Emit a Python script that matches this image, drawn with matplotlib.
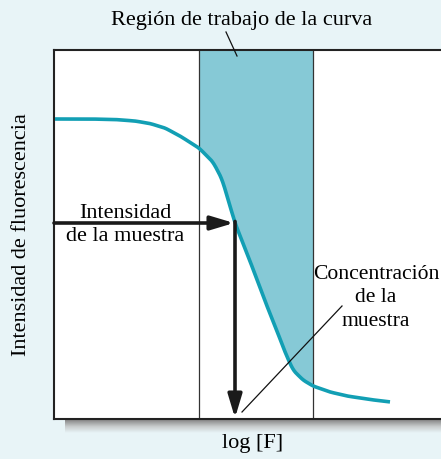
import numpy as np
import matplotlib
matplotlib.use("Agg")
import matplotlib.pyplot as plt
from matplotlib.colors import LinearSegmentedColormap

# Data (axis units follow the drawing's layout: x = log[F], y = intensity, inverted)
curve_x = [55, 90, 115, 135, 150, 165, 180, 199, 213, 222, 230, 235, 250, 263, 277, 285, 293, 303, 313, 330, 347, 370, 390]
curve_y = [120, 120, 120.5, 122, 124.5, 129, 137, 149, 163, 180, 207, 224, 262, 297, 332, 353, 371, 381, 387, 393, 397, 400.5, 403]
band = [199, 313]
sample_point = [235, 224]
title_text = "Región de trabajo de la curva"
xlabel_text = "log [F]"
ylabel_text = "Intensidad de fluorescencia"
int_label = "Intensidad\nde la muestra"
conc_label = "Concentración\nde la\nmuestra"

bg = "#e8f4f7"
fill_c = "#86c9d6"
curve_c = "#129fb4"

fig = plt.figure(figsize=(4.41, 4.60), dpi=100, facecolor=bg)
W, H = 441, 460
L, R, T, B = 54, 446, 51, 420
ax = fig.add_axes([L / W, 1 - B / H, (R - L) / W, (B - T) / H])
ax.set_xlim(L, R)
ax.set_ylim(B, T)
ax.set_facecolor("white")
ax.set_xticks([])
ax.set_yticks([])
for s in ["left", "top", "bottom"]:
    ax.spines[s].set_linewidth(1.5)
    ax.spines[s].set_color("#222222")
ax.spines["right"].set_visible(False)

# shadow under bottom axis
grad = np.linspace(0, 1, 50).reshape(-1, 1)
sh_ax = fig.add_axes([65 / W, 1 - 434 / H, (W - 65) / W, 13 / H], zorder=-1)
cmap = LinearSegmentedColormap.from_list("sh", ["#8a8a8a", "#c8cccd", bg])
sh_ax.imshow(grad, aspect="auto", cmap=cmap, extent=[0, 1, 1, 0])
sh_ax.axis("off")

# curve (lightly smoothed)
cx = np.linspace(curve_x[0], curve_x[-1], 700)
cy = np.interp(cx, curve_x, curve_y)
k = 6
cy_s = np.convolve(np.pad(cy, k, mode="edge"), np.ones(2 * k + 1) / (2 * k + 1), mode="same")[k:-k]

# working band fill
m = (cx >= band[0]) & (cx <= band[1])
xs = np.concatenate([[band[0]], cx[m], [band[1]]])
ys = np.interp(xs, cx, cy_s)
ax.fill_between(xs, ys, T, color=fill_c, lw=0, zorder=1)
for bx in band:
    ax.axvline(bx, color="#333333", lw=0.9, zorder=2)

ax.plot(cx, cy_s, color=curve_c, lw=2.6, solid_capstyle="butt", zorder=3)

# arrows
ap = dict(arrowstyle="-|>,head_length=1.0,head_width=0.3", color="#1a1a1a", lw=2.6,
          shrinkA=0, shrinkB=0, mutation_scale=14)
ax.annotate("", xy=(sample_point[0] - 1, sample_point[1]), xytext=(L, sample_point[1]),
            arrowprops=ap, zorder=4)
ax.annotate("", xy=(sample_point[0], B - 1), xytext=(sample_point[0], sample_point[1] - 1.5),
            arrowprops=ap, zorder=4)

serif = ["Liberation Serif", "DejaVu Serif"]
fs = 16
ax.text(125, 225, int_label, ha="center", va="center", fontsize=fs, family=serif,
        linespacing=1.3, zorder=5)
ax.text(376, 298, conc_label, ha="center", va="center", fontsize=15.6, family=serif,
        linespacing=1.3, zorder=5)
ax.plot([342, 242], [307, 413], color="#111111", lw=0.9, zorder=5)

# title with pointer line
fig.text(242 / W, 1 - 20 / H, title_text, ha="center", va="center", fontsize=fs, family=serif)
fig.add_artist(plt.Line2D([226 / W, 237 / W], [1 - 33 / H, 1 - 57 / H], color="#111111", lw=0.9,
                          transform=fig.transFigure))
fig.text(253 / W, 1 - 444 / H, xlabel_text, ha="center", va="center", fontsize=fs, family=serif)
fig.text(22 / W, 1 - 235 / H, ylabel_text, ha="center", va="center", rotation=90, fontsize=fs,
         family=serif)

fig.savefig("out.png", dpi=100, facecolor=bg)
